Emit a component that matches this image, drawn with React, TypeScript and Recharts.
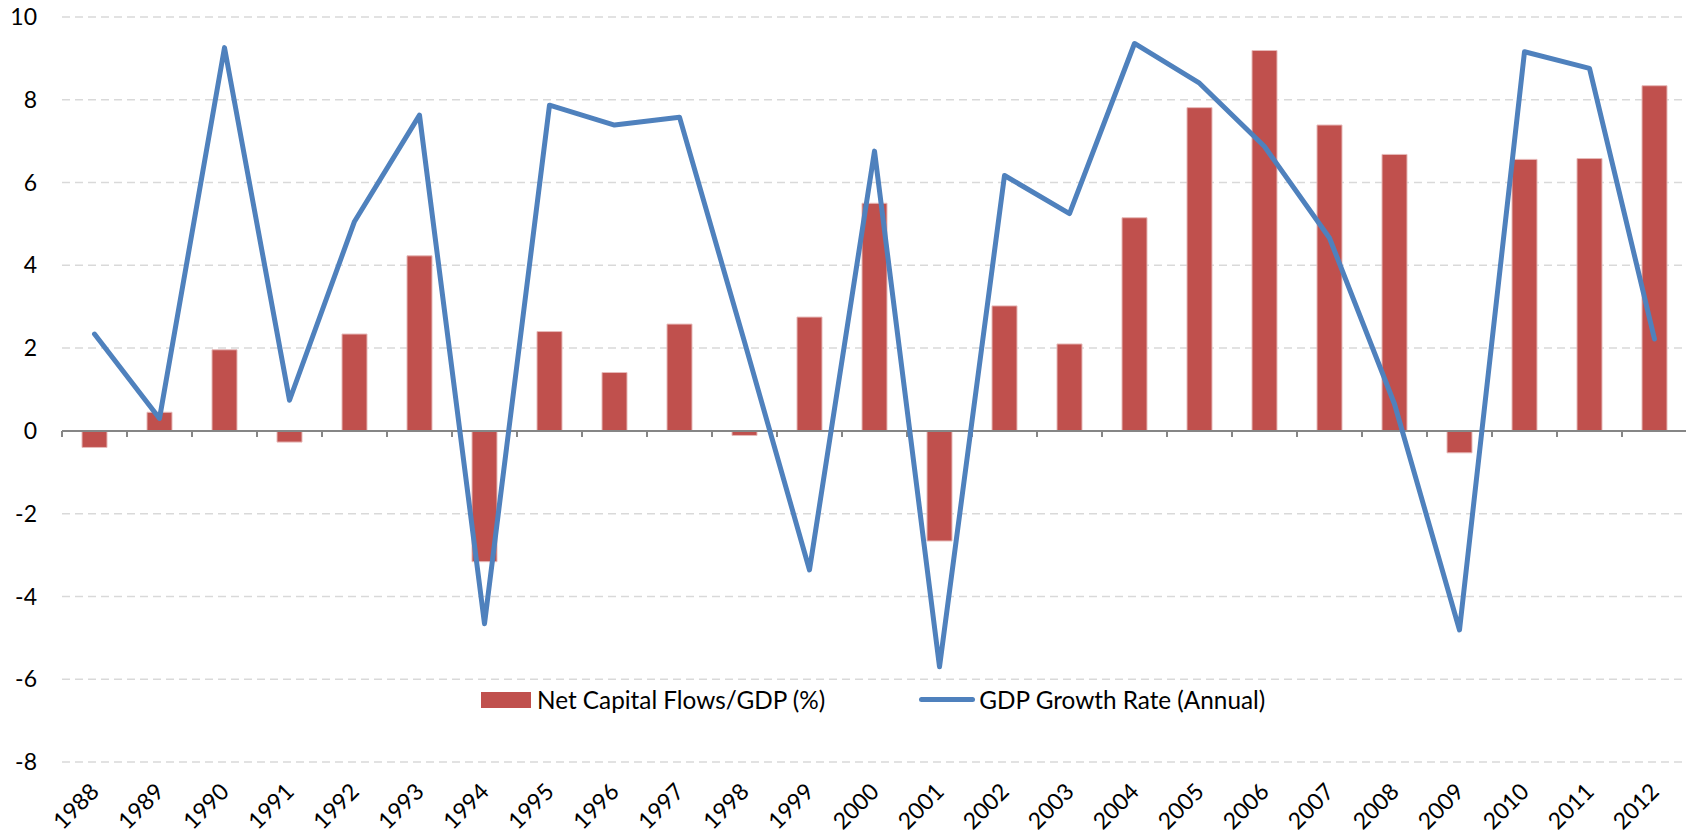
import {
  ComposedChart,
  Bar,
  Line,
  XAxis,
  YAxis,
  CartesianGrid,
  ReferenceLine,
  Legend,
} from 'recharts';

const years = [
  '1988', '1989', '1990', '1991', '1992', '1993', '1994', '1995', '1996',
  '1997', '1998', '1999', '2000', '2001', '2002', '2003', '2004', '2005',
  '2006', '2007', '2008', '2009', '2010', '2011', '2012',
];

const capitalFlows = [
  -0.4, 0.45, 1.96, -0.27, 2.34, 4.23, -3.16, 2.4, 1.41, 2.58, -0.11, 2.75,
  5.5, -2.66, 3.02, 2.1, 5.15, 7.81, 9.19, 7.39, 6.68, -0.53, 6.56, 6.58, 8.34,
];

const gdpGrowth = [
  2.34, 0.3, 9.26, 0.74, 5.06, 7.63, -4.66, 7.87, 7.39, 7.58, 2.15, -3.36,
  6.76, -5.7, 6.17, 5.25, 9.36, 8.4, 6.87, 4.66, 0.65, -4.81, 9.16, 8.76, 2.22,
];

const yTicks = [-8, -6, -4, -2, 0, 2, 4, 6, 8, 10];

const data = years.map((year, i) => ({
  year,
  flows: capitalFlows[i],
  growth: gdpGrowth[i],
}));

const BAR_COLOR = '#C0504D';
const LINE_COLOR = '#4F81BD';

function YearTick(props: any) {
  const { x, y, payload } = props;
  return (
    <text
      x={x + 6}
      y={y}
      textAnchor="end"
      fontSize={23}
      fill="#000"
      transform={`rotate(-45, ${x + 6}, ${y})`}
    >
      {payload.value}
    </text>
  );
}

function renderLegend() {
  return (
    <div style={{ display: 'flex', alignItems: 'center', fontSize: 24.3, color: '#000', whiteSpace: 'nowrap' }}>
      <span style={{ display: 'inline-block', width: 50, height: 16, background: BAR_COLOR, marginRight: 6 }} />
      <span>Net Capital Flows/GDP (%)</span>
      <span
        style={{
          display: 'inline-block',
          width: 56,
          height: 5,
          borderRadius: 3,
          background: LINE_COLOR,
          marginLeft: 94,
          marginRight: 4,
        }}
      />
      <span>GDP Growth Rate (Annual)</span>
    </div>
  );
}

export default function App() {
  return (
    <div style={{ fontFamily: 'Lato, "Open Sans", sans-serif', marginTop: -8 }}>
      <ComposedChart
        width={1680}
        height={834}
        data={data}
        margin={{ top: 17, right: 1, bottom: 0, left: 0 }}
      >
        <CartesianGrid vertical={false} stroke="#D9D9D9" strokeDasharray="8 5" strokeWidth={1.5} />
        <XAxis
          dataKey="year"
          axisLine={false}
          tickLine={false}
          tickSize={0}
          tickMargin={31}
          height={72}
          interval={0}
          tick={<YearTick />}
        />
        <YAxis
          domain={[-8, 10]}
          ticks={yTicks}
          axisLine={false}
          tickLine={false}
          tickSize={0}
          tickMargin={25}
          width={54}
          tick={{ fontSize: 23, fill: '#000' }}
        />
        <Bar
          dataKey="flows"
          fill={BAR_COLOR}
          stroke="#E6B9B8"
          strokeWidth={1}
          barSize={25}
          isAnimationActive={false}
        />
        <ReferenceLine y={0} stroke="#868686" strokeWidth={2} />
        {years.map((year) => (
          <ReferenceLine
            key={year}
            segment={[{ x: year, y: 0 }, { x: year, y: -0.15 }]}
            position="start"
            stroke="#868686"
            strokeWidth={2}
          />
        ))}
        <ReferenceLine
          segment={[{ x: years[years.length - 1], y: 0 }, { x: years[years.length - 1], y: -0.15 }]}
          position="end"
          stroke="#868686"
          strokeWidth={2}
        />
        <Line
          dataKey="growth"
          stroke={LINE_COLOR}
          strokeWidth={5}
          strokeLinejoin="round"
          strokeLinecap="round"
          dot={false}
          isAnimationActive={false}
        />
        <Legend
          layout="horizontal"
          verticalAlign="middle"
          align="center"
          content={renderLegend}
          wrapperStyle={{ left: 473, top: 685, width: 'auto' }}
        />
      </ComposedChart>
    </div>
  );
}
